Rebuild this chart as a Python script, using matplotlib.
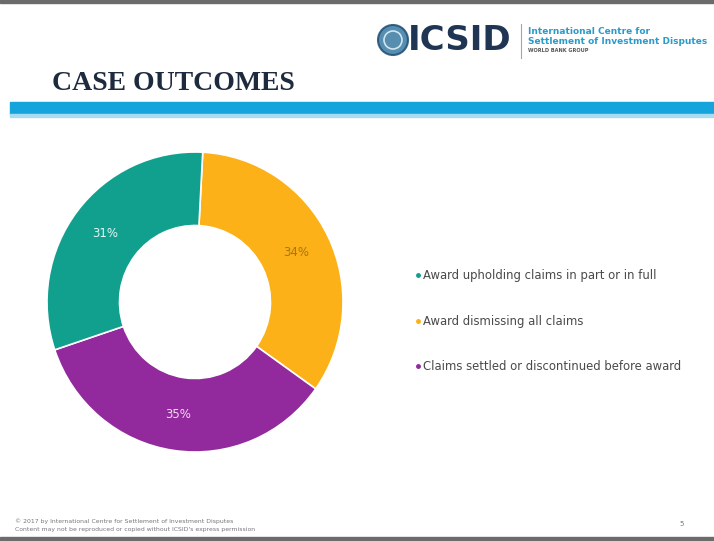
import matplotlib
matplotlib.use("Agg")
import matplotlib.pyplot as plt
from matplotlib.patches import Rectangle, Circle

# ---- data ----
categories = ["Award upholding claims in part or in full",
              "Award dismissing all claims",
              "Claims settled or discontinued before award"]
shares = [31, 34, 35]
colors = ["#12a08e", "#fbb117", "#92299c"]
label_colors = ["#e6f5f2", "#a8741c", "#f3dcf4"]
title = "CASE OUTCOMES"

W, H = 714, 541
fig = plt.figure(figsize=(W / 100, H / 100), dpi=100)
fig.patch.set_facecolor("white")

# full-figure overlay axes in pixel coordinates (y downwards)
bg = fig.add_axes([0, 0, 1, 1])
bg.set_xlim(0, W)
bg.set_ylim(H, 0)
bg.axis("off")

# top and bottom border lines
bg.add_patch(Rectangle((0, 0), W, 3, color="#6b6b6b"))
bg.add_patch(Rectangle((0, 537), W, 4, color="#6b6b6b"))

# blue header bar
bg.add_patch(Rectangle((10, 102), W - 10, 12, color="#16a4dc"))
bg.add_patch(Rectangle((10, 114), W - 10, 3, color="#a9dcf1"))

# title
bg.text(52, 83, title, fontsize=20, fontweight="bold", family="Liberation Serif",
        color="#1e2a3e", va="center", ha="left")

# logo
bg.add_patch(Circle((393, 40), 15, facecolor="#3a7aa3", edgecolor="#1d4d73", lw=1.5, alpha=0.85))
bg.add_patch(Circle((393, 40), 9, facecolor="none", edgecolor="#cde6f2", lw=1.2))
bg.text(408, 41, "ICSID", fontsize=24.5, fontweight="bold", color="#1f3553",
        va="center", ha="left", family="DejaVu Sans")
bg.plot([521, 521], [24, 58], color="#9aa8b3", lw=0.8)
bg.text(528, 32, "International Centre for", fontsize=6.5, fontweight="bold",
        color="#2b9bc9", va="center", ha="left")
bg.text(528, 41, "Settlement of Investment Disputes", fontsize=6.5, fontweight="bold",
        color="#2b9bc9", va="center", ha="left")
bg.text(528, 50, "WORLD BANK GROUP", fontsize=3.6, fontweight="bold",
        color="#555555", va="center", ha="left")

# footer
bg.text(15, 521, "\u00a9 2017 by International Centre for Settlement of Investment Disputes",
        fontsize=4.4, color="#777777", va="center", ha="left")
bg.text(15, 530, "Content may not be reproduced or copied without ICSID's express permission",
        fontsize=4.4, color="#777777", va="center", ha="left")
bg.text(682, 524, "5", fontsize=5, color="#777777", va="center", ha="center")

# donut axes
cx, cy, rx, ry = 195, 302, 148, 150
ax = fig.add_axes([(cx - rx) / W, 1 - (cy + ry) / H, 2 * rx / W, 2 * ry / H])
ax.set_zorder(2)
draw_order = [1, 2, 0]  # clockwise from top: dismissing, settled, upholding
wedges, texts, autotexts = ax.pie(
    [shares[i] for i in draw_order], colors=[colors[i] for i in draw_order],
    startangle=87, counterclock=False,
    autopct="%d%%", pctdistance=0.76,
    wedgeprops=dict(width=0.49, edgecolor="white", linewidth=1.2),
)
for t, i in zip(autotexts, draw_order):
    t.set_color(label_colors[i])
    t.set_fontsize(8.5)
ax.set_aspect("auto")
ax.set_xlim(-1, 1)
ax.set_ylim(-1, 1)
ax.axis("off")

# legend
ly = [275, 321, 366]
for y, name, col in zip(ly, categories, colors):
    bg.plot(418, y, marker="o", ms=2.5, color=col, ls="none")
    bg.text(423, y, name, fontsize=8.4, color="#4a4a4a", va="center", ha="left")

fig.savefig("out.png", dpi=100, facecolor="white")
